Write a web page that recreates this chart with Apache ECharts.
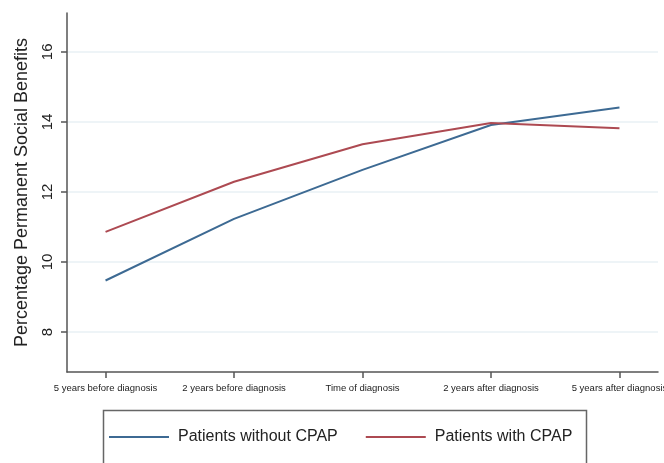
<!DOCTYPE html>
<html>
<head>
<meta charset="utf-8">
<script src="https://cdn.jsdelivr.net/npm/echarts@6/dist/echarts.min.js"></script>
<style>
  html, body { margin: 0; padding: 0; background: #fff; }
  #chart { width: 664px; height: 463px; }
</style>
</head>
<body>
<div id="chart"></div>
<script>
// time points on the x axis
var categories = ['5 years before diagnosis', '2 years before diagnosis', 'Time of diagnosis', '2 years after diagnosis', '5 years after diagnosis'];
var withoutCpap = [9.47, 11.23, 12.63, 13.91, 14.41];
var withCpap = [10.86, 12.29, 13.36, 13.97, 13.82];
var yTicks = [8, 10, 12, 14, 16];
var xTicks = [0, 1, 2, 3, 4];

function pairs(vals) {
  return vals.map(function (v, i) { return [i, v]; });
}

var myChart = echarts.init(document.getElementById('chart'));

var option = {
  animation: false,
  textStyle: { fontFamily: 'Liberation Sans, Arial, sans-serif' },
  grid: { left: 67, right: 6, top: 13, bottom: 91, outerBoundsMode: 'none', containLabel: false },
  legend: {
    left: 104, top: 424,
    icon: 'rect', itemWidth: 60, itemHeight: 2, itemGap: 28,
    textStyle: { fontSize: 16, color: '#222', padding: [0, 0, 0, 4] },
    data: ['Patients without CPAP', 'Patients with CPAP']
  },
  graphic: [{
    type: 'rect',
    shape: { x: 103.5, y: 410.5, width: 483, height: 60 },
    style: { fill: 'none', stroke: '#666', lineWidth: 1.5 },
    silent: true
  }],
  xAxis: {
    type: 'value',
    min: -0.3, max: 4.3,
    axisLine: { show: true, onZero: false, lineStyle: { color: '#555', width: 1.5 } },
    axisTick: { show: true, customValues: xTicks, length: 6, lineStyle: { color: '#555', width: 1.5 } },
    axisLabel: {
      customValues: xTicks, fontSize: 9.5, color: '#222', margin: 11,
      formatter: function (v) { return categories[Math.round(v)]; }
    },
    splitLine: { show: false }
  },
  yAxis: {
    type: 'value',
    min: 6.857, max: 17.11,
    name: 'Percentage Permanent Social Benefits',
    nameLocation: 'middle', nameGap: 36, nameRotate: 90,
    nameTextStyle: { fontSize: 18, color: '#222' },
    axisLine: { show: true, onZero: false, lineStyle: { color: '#555', width: 1.5 } },
    axisTick: { show: true, customValues: yTicks, length: 6, lineStyle: { color: '#555', width: 1.5 } },
    axisLabel: { customValues: yTicks, rotate: 90, fontSize: 15, color: '#222', margin: 12 },
    splitLine: { show: true, lineStyle: { color: '#e8f1f4', width: 1.5 } }
  },
  series: [
    {
      name: 'Patients without CPAP', type: 'line', data: pairs(withoutCpap),
      symbol: 'none', color: '#3d6a93',
      lineStyle: { width: 2, color: '#3d6a93' }
    },
    {
      name: 'Patients with CPAP', type: 'line', data: pairs(withCpap),
      symbol: 'none', color: '#ad4a52',
      lineStyle: { width: 2, color: '#ad4a52' }
    }
  ]
};
myChart.setOption(option);
</script>
</body>
</html>
